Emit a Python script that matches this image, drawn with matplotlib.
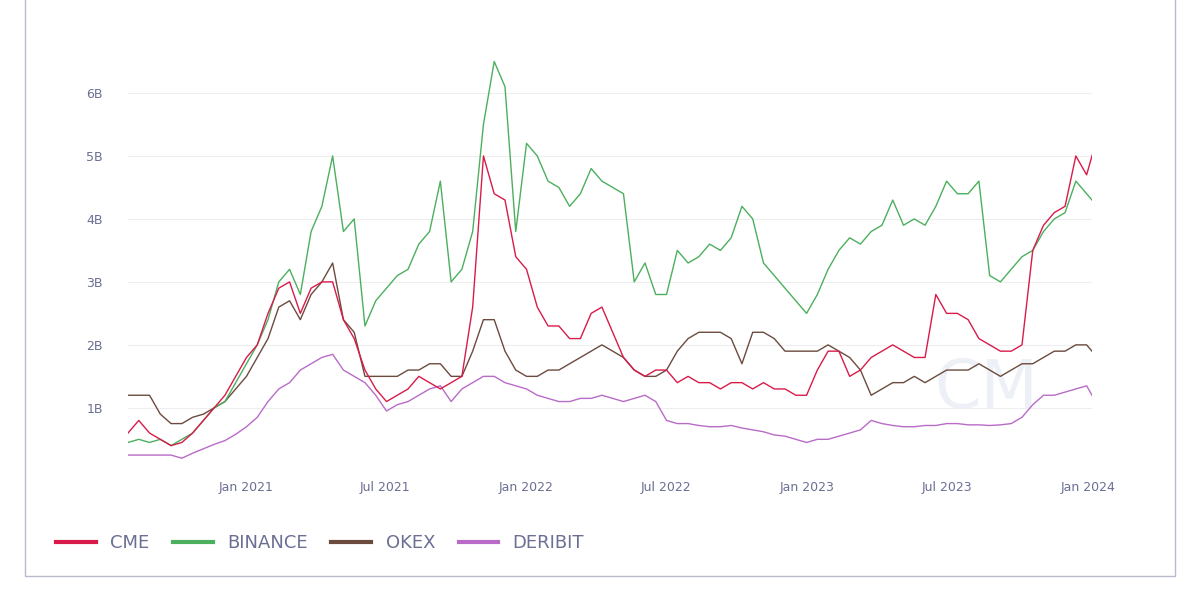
import numpy as np
import pandas as pd
import matplotlib
matplotlib.use("Agg")
import matplotlib.pyplot as plt
from matplotlib.patches import Rectangle
from matplotlib.lines import Line2D

# biweekly samples starting 2020-08-01, values in billions USD
dates = pd.date_range("2020-08-01", periods=91, freq="14D")

binance = [0.45, 0.5, 0.45, 0.5, 0.4, 0.5, 0.6, 0.8, 1.0, 1.1, 1.4, 1.7, 2.0, 2.4, 3.0, 3.2,
           2.8, 3.8, 4.2, 5.0, 3.8, 4.0, 2.3, 2.7, 2.9, 3.1, 3.2, 3.6, 3.8, 4.6, 3.0, 3.2,
           3.8, 5.5, 6.5, 6.1, 3.8, 5.2, 5.0, 4.6, 4.5, 4.2, 4.4, 4.8, 4.6, 4.5, 4.4, 3.0,
           3.3, 2.8, 2.8, 3.5, 3.3, 3.4, 3.6, 3.5, 3.7, 4.2, 4.0, 3.3, 3.1, 2.9, 2.7, 2.5,
           2.8, 3.2, 3.5, 3.7, 3.6, 3.8, 3.9, 4.3, 3.9, 4.0, 3.9, 4.2, 4.6, 4.4, 4.4, 4.6,
           3.1, 3.0, 3.2, 3.4, 3.5, 3.8, 4.0, 4.1, 4.6, 4.4, 4.2]
cme = [0.6, 0.8, 0.6, 0.5, 0.4, 0.45, 0.6, 0.8, 1.0, 1.2, 1.5, 1.8, 2.0, 2.5, 2.9, 3.0,
       2.5, 2.9, 3.0, 3.0, 2.4, 2.1, 1.6, 1.3, 1.1, 1.2, 1.3, 1.5, 1.4, 1.3, 1.4, 1.5,
       2.6, 5.0, 4.4, 4.3, 3.4, 3.2, 2.6, 2.3, 2.3, 2.1, 2.1, 2.5, 2.6, 2.2, 1.8, 1.6,
       1.5, 1.6, 1.6, 1.4, 1.5, 1.4, 1.4, 1.3, 1.4, 1.4, 1.3, 1.4, 1.3, 1.3, 1.2, 1.2,
       1.6, 1.9, 1.9, 1.5, 1.6, 1.8, 1.9, 2.0, 1.9, 1.8, 1.8, 2.8, 2.5, 2.5, 2.4, 2.1,
       2.0, 1.9, 1.9, 2.0, 3.5, 3.9, 4.1, 4.2, 5.0, 4.7, 5.3]
okex = [1.2, 1.2, 1.2, 0.9, 0.75, 0.75, 0.85, 0.9, 1.0, 1.1, 1.3, 1.5, 1.8, 2.1, 2.6, 2.7,
        2.4, 2.8, 3.0, 3.3, 2.4, 2.2, 1.5, 1.5, 1.5, 1.5, 1.6, 1.6, 1.7, 1.7, 1.5, 1.5,
        1.9, 2.4, 2.4, 1.9, 1.6, 1.5, 1.5, 1.6, 1.6, 1.7, 1.8, 1.9, 2.0, 1.9, 1.8, 1.6,
        1.5, 1.5, 1.6, 1.9, 2.1, 2.2, 2.2, 2.2, 2.1, 1.7, 2.2, 2.2, 2.1, 1.9, 1.9, 1.9,
        1.9, 2.0, 1.9, 1.8, 1.6, 1.2, 1.3, 1.4, 1.4, 1.5, 1.4, 1.5, 1.6, 1.6, 1.6, 1.7,
        1.6, 1.5, 1.6, 1.7, 1.7, 1.8, 1.9, 1.9, 2.0, 2.0, 1.8]
deribit = [0.25, 0.25, 0.25, 0.25, 0.25, 0.2, 0.28, 0.35, 0.42, 0.48, 0.58, 0.7, 0.85, 1.1,
           1.3, 1.4, 1.6, 1.7, 1.8, 1.85, 1.6, 1.5, 1.4, 1.2, 0.95, 1.05, 1.1, 1.2, 1.3,
           1.35, 1.1, 1.3, 1.4, 1.5, 1.5, 1.4, 1.35, 1.3, 1.2, 1.15, 1.1, 1.1, 1.15, 1.15,
           1.2, 1.15, 1.1, 1.15, 1.2, 1.1, 0.8, 0.75, 0.75, 0.72, 0.7, 0.7, 0.72, 0.68,
           0.65, 0.62, 0.57, 0.55, 0.5, 0.45, 0.5, 0.5, 0.55, 0.6, 0.65, 0.8, 0.75, 0.72,
           0.7, 0.7, 0.72, 0.72, 0.75, 0.75, 0.73, 0.73, 0.72, 0.73, 0.75, 0.85, 1.05, 1.2,
           1.2, 1.25, 1.3, 1.35, 1.05]

series = [("CME", cme, "#d81b4a"), ("BINANCE", binance, "#4caf5e"),
          ("OKEX", okex, "#6b4b3e"), ("DERIBIT", deribit, "#b96bc8")]
xticks = pd.to_datetime(["2021-01-01", "2021-07-01", "2022-01-01", "2022-07-01",
                         "2023-01-01", "2023-07-01", "2024-01-01"])
xtick_labels = ["Jan 2021", "Jul 2021", "Jan 2022", "Jul 2022", "Jan 2023", "Jul 2023", "Jan 2024"]
yticks = [1, 2, 3, 4, 5, 6]
LABEL_COLOR = "#6b6f93"

fig = plt.figure(figsize=(12, 6), dpi=100)
ax = fig.add_axes([128 / 1200, 1 - 462 / 600, (1092 - 128) / 1200, 432 / 600])

# draw in reverse so CME sits on top
for name, vals, col in [series[3], series[2], series[1], series[0]]:
    ax.plot(dates, vals, color=col, lw=1.0)

ax.set_xlim(dates[0], pd.Timestamp("2024-01-06"))
ax.set_ylim(0.14, 7.0)
ax.set_yticks(yticks)
ax.set_yticklabels([f"{v}B" for v in yticks])
ax.set_xticks(xticks)
ax.set_xticklabels(xtick_labels)
ax.tick_params(length=0, colors=LABEL_COLOR, labelsize=9)
ax.tick_params(axis="x", pad=14)
ax.tick_params(axis="y", pad=18)
ax.grid(axis="y", color="#eeeeee", lw=0.8)
ax.set_axisbelow(True)
for s in ax.spines.values():
    s.set_visible(False)

ax.text(0.89, 0.17, "CM", transform=ax.transAxes, fontsize=48, color="#dfe3f3",
        alpha=0.5, ha="center", va="center", zorder=0)

fig.patches.append(Rectangle((25 / 1200, 1 - 576 / 600), 1150 / 1200, 576 / 600 + 0.01,
                             transform=fig.transFigure, fill=False,
                             edgecolor="#b8bccc", lw=1.0))

handles = [Line2D([0], [0], color=c, lw=3) for _, _, c in series]
fig.legend(handles, [n for n, _, _ in series], loc="center left",
           bbox_to_anchor=(40 / 1200, 1 - 543 / 600), ncol=4, frameon=False,
           fontsize=13, labelcolor=LABEL_COLOR, handlelength=2.2, columnspacing=1.3)

fig.savefig("out.png", dpi=100)
